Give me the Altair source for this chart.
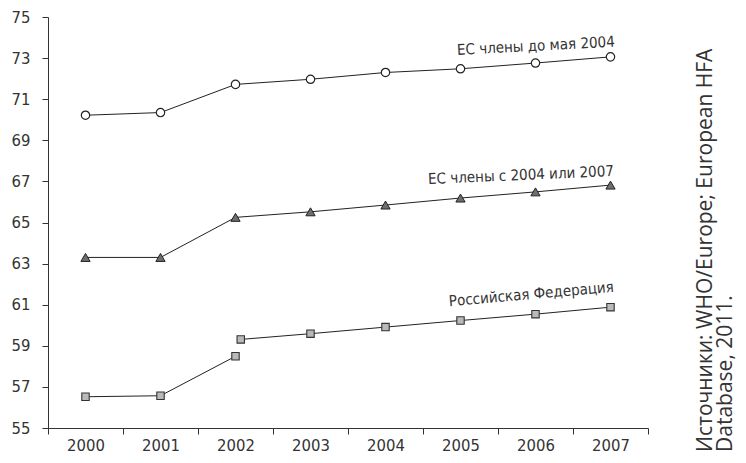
import altair as alt
import pandas as pd

# ---- data ----
years = [2000, 2001, 2002, 2003, 2004, 2005, 2006, 2007]
eu_before_2004 = [70.22, 70.35, 71.72, 71.97, 72.30, 72.48, 72.76, 73.06]
eu_since_2004_2007 = [63.30, 63.30, 65.25, 65.52, 65.85, 66.19, 66.49, 66.82]
ru_years_a = [2000, 2001, 2002]
ru_values_a = [56.52, 56.57, 58.49]
ru_years_b = [2002.07, 2003, 2004, 2005, 2006, 2007]
ru_values_b = [59.31, 59.59, 59.91, 60.23, 60.54, 60.88]

series_labels = ["ЕС члены до мая 2004", "ЕС члены с 2004 или 2007", "Российская Федерация"]
source_lines = ["Источники: WHO/Europe; European HFA", "Database, 2011."]

x_tick_edges = [1999.5, 2000.5, 2001.5, 2002.5, 2003.5, 2004.5, 2005.5, 2006.5, 2007.5]
y_ticks = [55, 57, 59, 61, 63, 65, 67, 69, 71, 73, 75]

# ---- tables ----
df_eu15 = pd.DataFrame({"year": years, "value": eu_before_2004, "seg": "a"})
df_eu12 = pd.DataFrame({"year": years, "value": eu_since_2004_2007, "seg": "b"})
df_ru = pd.concat([
    pd.DataFrame({"year": ru_years_a, "value": ru_values_a, "seg": "c"}),
    pd.DataFrame({"year": ru_years_b, "value": ru_values_b, "seg": "d"}),
], ignore_index=True)
df_all = pd.concat([df_eu15, df_eu12, df_ru], ignore_index=True)

FONT_N = "Liberation Sans Narrow, DejaVu Sans Condensed, Roboto, sans-serif"
FONT_R = "Open Sans, Noto Sans, DejaVu Sans, sans-serif"
INK = "#333333"

x_scale = alt.Scale(domain=[1999.5, 2007.5], nice=False, zero=False)
y_scale = alt.Scale(domain=[55, 75], nice=False, zero=False)

# axis with the ticks at band edges (no labels)
x_edges = alt.X("year:Q", scale=x_scale,
                axis=alt.Axis(values=x_tick_edges, labels=False, title=None, grid=False,
                              orient="bottom"))
# axis with the year labels (no ticks, no domain)
x_years = alt.X("year:Q", scale=x_scale,
                axis=alt.Axis(values=years, format="d", ticks=False, domain=False,
                              title=None, grid=False, orient="bottom",
                              labelPadding=9, labelOverlap=False, labelFlush=False))
x_none = alt.X("year:Q", scale=x_scale, axis=None)
y_enc = alt.Y("value:Q", scale=y_scale,
              axis=alt.Axis(values=y_ticks, title=None, grid=False, format="d",
                            labelPadding=12, labelOverlap=False, labelFlush=False))

lines = alt.Chart(df_all).mark_line(color="#222222", strokeWidth=1).encode(
    x=x_edges, y=y_enc, detail="seg:N"
)

pts_eu15 = alt.Chart(df_eu15).mark_point(
    shape="circle", filled=True, fill="white", stroke="#222222",
    strokeWidth=1.2, size=70, opacity=1
).encode(x=x_years, y=y_enc)

pts_eu12 = alt.Chart(df_eu12).mark_point(
    shape="triangle-up", filled=True, fill="#6e6e6e", stroke="#222222",
    strokeWidth=1, size=85, opacity=1
).encode(x=x_none, y=y_enc)

pts_ru = alt.Chart(df_ru).mark_point(
    shape="square", filled=True, fill="#b9b9b9", stroke="#333333",
    strokeWidth=1.1, size=55, opacity=1
).encode(x=x_none, y=y_enc)

def label(df, text, angle, dx, dy):
    last = df.iloc[[-1]].copy()
    last["label"] = text
    return alt.Chart(last).mark_text(
        align="right", baseline="alphabetic", angle=angle, dx=dx, dy=dy,
        font=FONT_N, fontSize=15, color=INK
    ).encode(x=x_none, y=y_enc, text="label:N")

lab1 = label(df_eu15, series_labels[0], 357, 5, -10)
lab2 = label(df_eu12, series_labels[1], 357.5, 4, -9)
lab3 = label(df_ru, series_labels[2], 355, 5, -15)

df_src = pd.DataFrame({"t": [source_lines]})
source = alt.Chart(df_src).mark_text(
    angle=270, align="left", baseline="top", font=FONT_R, fontSize=21,
    lineHeight=20, color=INK
).encode(x=alt.value(647), y=alt.value(435), text="t")

chart = alt.layer(lines, pts_eu15, pts_eu12, pts_ru, lab1, lab2, lab3, source).resolve_axis(
    x="independent"
).properties(
    width=600, height=411,
    autosize=alt.AutoSizeParams(type="none"),
    padding={"left": 40, "top": 9, "right": 90, "bottom": 27},
).configure_view(stroke=None).configure_axis(
    domainColor=INK, tickColor=INK, labelColor=INK, domainWidth=1, tickWidth=1,
    tickSize=6, labelFont=FONT_N, labelFontSize=16.5,
)

chart.save("out.html", embed_options={"renderer": "svg", "actions": False})
